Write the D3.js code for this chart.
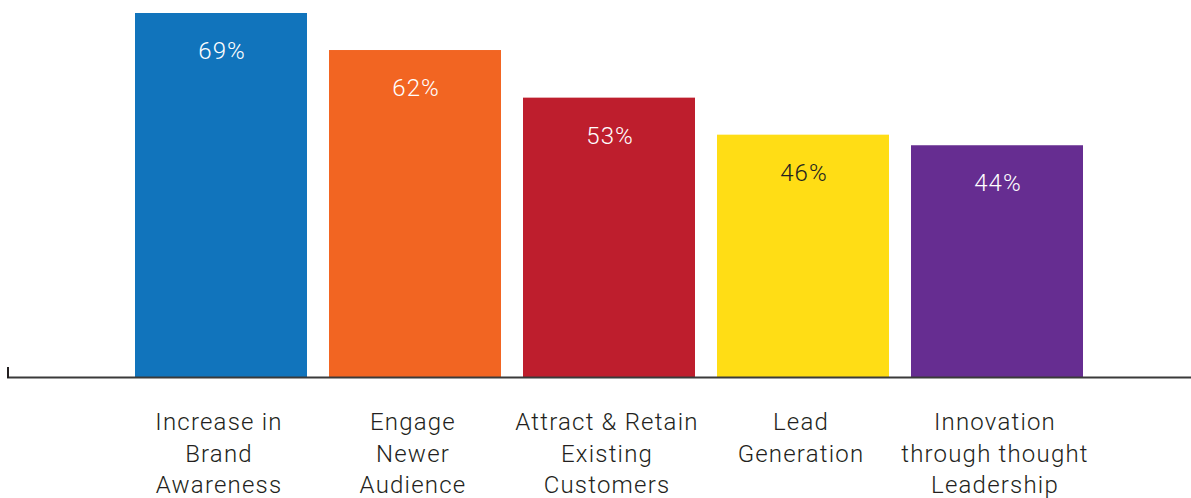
<!DOCTYPE html>
<html>
<head>
<meta charset="utf-8">
<script src="https://d3js.org/d3.v7.min.js"></script>
<style>
  body { margin: 0; background: #fff; }
  svg text { font-family: 'Roboto', sans-serif; }
</style>
</head>
<body>
<div id="chart"></div>
<script>
// chart data
var categories = [
  ["Increase in", "Brand", "Awareness"],
  ["Engage", "Newer", "Audience"],
  ["Attract & Retain", "Existing", "Customers"],
  ["Lead", "Generation"],
  ["Innovation", "through thought", "Leadership"]
];
var values = [69, 62, 53, 46, 44];
var colors = ["#1174bc", "#f26522", "#be1e2d", "#ffdd15", "#662d91"];
var valueColors = ["#fff", "#fff", "#fff", "#231f20", "#fff"];

var width = 1191, height = 498;
var baseY = 378;

var svg = d3.select("#chart").append("svg")
    .attr("width", width)
    .attr("height", height);

var x = d3.scaleBand()
    .domain(d3.range(values.length))
    .range([135, 1083])
    .paddingInner(0.1134)
    .paddingOuter(0);

var y = d3.scaleLinear()
    .domain([0, 69])
    .range([baseY, 13]);

svg.selectAll("rect.bar")
    .data(values)
  .enter().append("rect")
    .attr("class", "bar")
    .attr("x", function(d, i) { return x(i); })
    .attr("y", function(d) { return y(d); })
    .attr("width", x.bandwidth())
    .attr("height", function(d) { return baseY - y(d); })
    .attr("fill", function(d, i) { return colors[i]; });

// value labels inside the bars
svg.selectAll("text.val")
    .data(values)
  .enter().append("text")
    .attr("class", "val")
    .attr("x", function(d, i) { return x(i) + x.bandwidth() / 2 + 1; })
    .attr("y", function(d) { return y(d) + 46; })
    .attr("text-anchor", "middle")
    .style("font-size", "24px")
    .style("font-weight", 300)
    .style("letter-spacing", "1px")
    .attr("fill", function(d, i) { return valueColors[i]; })
    .text(function(d) { return d + "%"; });

// baseline + little left tick
svg.append("line")
    .attr("x1", 7).attr("x2", width)
    .attr("y1", baseY - 0.5).attr("y2", baseY - 0.5)
    .attr("stroke", "#3a3a3a").attr("stroke-width", 2);
svg.append("line")
    .attr("x1", 8).attr("x2", 8)
    .attr("y1", 367).attr("y2", baseY)
    .attr("stroke", "#231f20").attr("stroke-width", 2);

// category labels
var labels = svg.selectAll("text.cat")
    .data(categories)
  .enter().append("text")
    .attr("class", "cat")
    .attr("text-anchor", "middle")
    .attr("fill", "#231f20")
    .style("font-size", "24px")
    .style("font-weight", 300)
    .style("letter-spacing", "1.2px");

labels.selectAll("tspan")
    .data(function(d, i) { return d.map(function(t) { return {t: t, i: i}; }); })
  .enter().append("tspan")
    .attr("x", function(d) { return x(d.i) + x.bandwidth() / 2 - 2; })
    .attr("y", function(d, j) { return 430 + j * 31.5; })
    .text(function(d) { return d.t; });
</script>
</body>
</html>
